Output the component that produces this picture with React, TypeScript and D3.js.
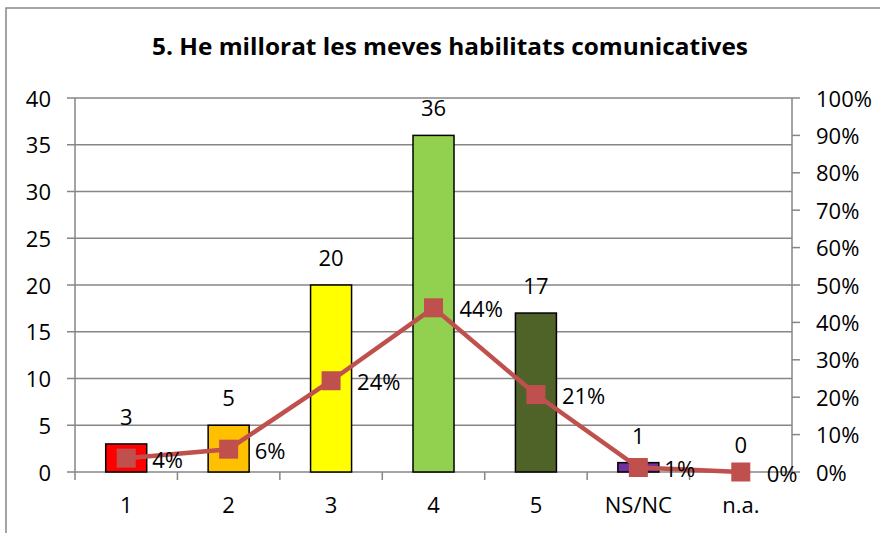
import React from "react";
import * as d3 from "d3";

const categories = ["1", "2", "3", "4", "5", "NS/NC", "n.a."];
const counts = [3, 5, 20, 36, 17, 1, 0];
const percents = [3.7, 6.1, 24.4, 43.9, 20.7, 1.2, 0];
const percentLabels = ["4%", "6%", "24%", "44%", "21%", "1%", "0%"];
const barColors = ["#FF0000", "#FFC000", "#FFFF00", "#92D050", "#4F6228", "#7030A0", "#FFFFFF"];
const leftTicks = [0, 5, 10, 15, 20, 25, 30, 35, 40];
const rightTicks = [0, 10, 20, 30, 40, 50, 60, 70, 80, 90, 100];

const W = 880;
const H = 533;
const margin = { top: 98, right: 88, bottom: 61, left: 75 };
const font = "'Open Sans', Lato, sans-serif";
const lineColor = "#C0504D";
const fs = 22;

const App = () => {
  const band = d3
    .scaleBand()
    .domain(categories)
    .range([margin.left, W - margin.right]);
  const y = d3
    .scaleLinear()
    .domain([0, 40])
    .range([H - margin.bottom, margin.top]);
  const yPct = d3
    .scaleLinear()
    .domain([0, 100])
    .range([H - margin.bottom, margin.top]);

  const cx = (c: string) => band(c)! + band.bandwidth() / 2;
  const barW = 41;

  const line = d3
    .line<number>()
    .x((d, i) => cx(categories[i]))
    .y(d => yPct(d));

  const x0 = margin.left;
  const x1 = W - margin.right;
  const yBase = H - margin.bottom;

  return (
    <svg
      width={W}
      height={H}
      style={{ position: "absolute", left: 0, top: 0, background: "#fff" }}
      fontFamily={font}
    >
      <rect x={6} y={8} width={W} height={H} fill="#fff" stroke="#868686" strokeWidth={1.5} />
      <text
        x={450}
        y={55}
        textAnchor="middle"
        fontSize={23}
        fontWeight="bold"
        fill="#000"
        textLength={596}
        lengthAdjust="spacingAndGlyphs"
      >
        5. He millorat les meves habilitats comunicatives
      </text>

      {/* gridlines + left axis */}
      {leftTicks.map(t => (
        <g key={"l" + t}>
          <line x1={x0 - 8} x2={x1} y1={y(t)} y2={y(t)} stroke="#868686" strokeWidth={1.5} />
          <text x={51} y={y(t) + 8.5} textAnchor="end" fontSize={fs}>
            {t}
          </text>
        </g>
      ))}
      <line x1={x0} x2={x0} y1={margin.top} y2={yBase + 8} stroke="#868686" strokeWidth={1.5} />

      {/* right axis */}
      <line x1={x1} x2={x1} y1={margin.top} y2={yBase} stroke="#868686" strokeWidth={1.5} />
      {rightTicks.map(t => (
        <g key={"r" + t}>
          <line x1={x1} x2={x1 + 8} y1={yPct(t)} y2={yPct(t)} stroke="#868686" strokeWidth={1.5} />
          <text x={816} y={yPct(t) + 8.5} fontSize={fs}>
            {t}%
          </text>
        </g>
      ))}

      {/* category ticks */}
      {categories.slice(1).map(c => (
        <line
          key={"t" + c}
          x1={band(c)!}
          x2={band(c)!}
          y1={yBase}
          y2={yBase + 8}
          stroke="#868686"
          strokeWidth={1.5}
        />
      ))}
      {categories.map(c => (
        <text key={"c" + c} x={cx(c)} y={yBase + 41} textAnchor="middle" fontSize={fs}>
          {c}
        </text>
      ))}

      {/* bars */}
      {counts.map((v, i) => (
        <g key={"b" + i}>
          {v > 0 && (
            <rect
              x={cx(categories[i]) - barW / 2}
              y={y(v)}
              width={barW}
              height={yBase - y(v)}
              fill={barColors[i]}
              stroke="#000"
              strokeWidth={1.5}
            />
          )}
          <text x={cx(categories[i])} y={y(v) - 19} textAnchor="middle" fontSize={fs}>
            {v}
          </text>
        </g>
      ))}

      {/* percent line */}
      <path d={line(percents) || ""} fill="none" stroke={lineColor} strokeWidth={4.5} />
      {percents.map((p, i) => (
        <g key={"p" + i}>
          <rect
            x={cx(categories[i]) - 9.5}
            y={yPct(p) - 9.5}
            width={19}
            height={19}
            fill={lineColor}
          />
          <text x={cx(categories[i]) + 26} y={yPct(p) + 9.5} fontSize={fs}>
            {percentLabels[i]}
          </text>
        </g>
      ))}
    </svg>
  );
};

export default App;
